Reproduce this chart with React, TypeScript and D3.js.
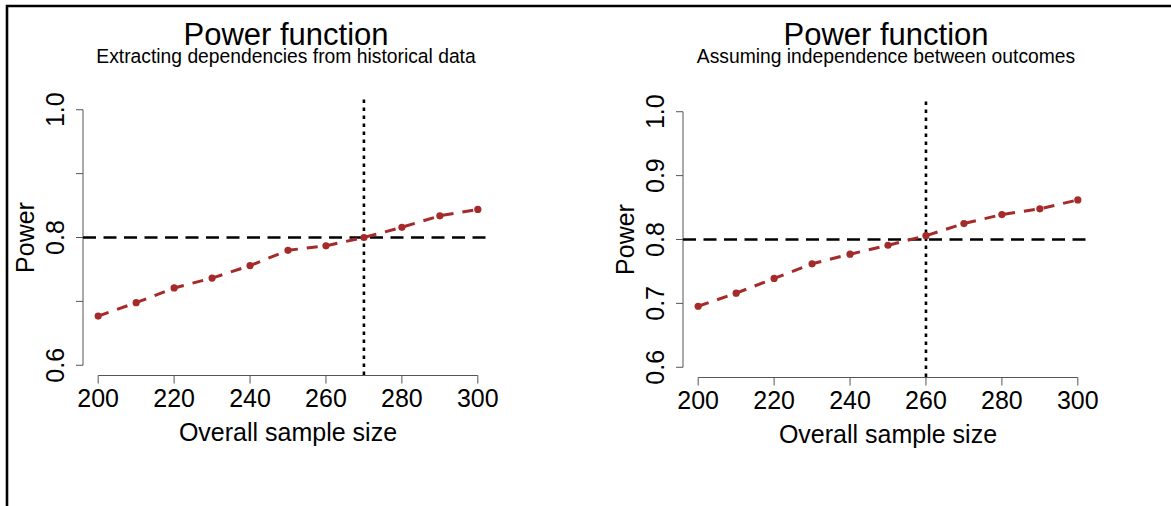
import React from "react";
import * as d3 from "d3";

const sampleSizes = [200, 210, 220, 230, 240, 250, 260, 270, 280, 290, 300];
const powerHistorical = [0.677, 0.698, 0.721, 0.7365, 0.756, 0.78, 0.787, 0.8, 0.816, 0.834, 0.844];
const powerIndependent = [0.6955, 0.716, 0.739, 0.762, 0.777, 0.791, 0.806, 0.825, 0.839, 0.848, 0.862];
const xTicks = [200, 220, 240, 260, 280, 300];
const yTicks = [0.6, 0.7, 0.8, 0.9, 1.0];
const leftYLabels = [0.6, 0.8, 1.0];
const rightYLabels = [0.6, 0.7, 0.8, 0.9, 1.0];
const targetPower = 0.8;
const leftCut = 270;
const rightCut = 260;
const titleText = "Power function";
const leftSubtitle = "Extracting dependencies from historical data";
const rightSubtitle = "Assuming independence between outcomes";
const xLabel = "Overall sample size";
const yLabel = "Power";

const FONT = "'Liberation Sans', Arial, Helvetica, sans-serif";
const RED = "#A52A2A";

type PanelProps = {
  left: number;
  top: number;
  values: number[];
  cut: number;
  subtitle: string;
  yLabels: number[];
};

function Panel({ left, top, values, cut, subtitle, yLabels }: PanelProps) {
  const w = 410;
  const h = 276;
  const x0 = left, x1 = left + w;
  const y0 = top, y1 = top + h;
  const x = d3.scaleLinear().domain([196, 304]).range([x0, x1]);
  const y = d3.scaleLinear().domain([0.584, 1.016]).range([y1, y0]);
  const line = d3
    .line<number>()
    .x((_, i) => x(sampleSizes[i]))
    .y((d) => y(d));
  const cx = (x0 + x1) / 2 - 2;
  return (
    <g fontFamily={FONT}>
      <text x={cx} y={44.5} textAnchor="middle" fontSize={31}>{titleText}</text>
      <text x={cx} y={63} textAnchor="middle" fontSize={19.3}>{subtitle}</text>
      {/* y axis */}
      <line x1={x0} x2={x0} y1={y(yTicks[0])} y2={y(yTicks[yTicks.length - 1])} stroke="#555" strokeWidth={1} />
      {yTicks.map((t) => (
        <line key={"yt" + t} x1={x0 - 7} x2={x0} y1={y(t)} y2={y(t)} stroke="#555" strokeWidth={1} />
      ))}
      {yLabels.map((t) => (
        <text
          key={"yl" + t}
          transform={`translate(${x0 - 19},${y(t)}) rotate(-90)`}
          textAnchor="middle"
          fontSize={25}
        >
          {d3.format(".1f")(t)}
        </text>
      ))}
      <text transform={`translate(${x0 - 49},${(y0 + y1) / 2}) rotate(-90)`} textAnchor="middle" fontSize={25}>
        {yLabel}
      </text>
      {/* x axis */}
      <line x1={x(xTicks[0])} x2={x(xTicks[xTicks.length - 1])} y1={y1} y2={y1} stroke="#555" strokeWidth={1} />
      {xTicks.map((t) => (
        <line key={"xt" + t} x1={x(t)} x2={x(t)} y1={y1} y2={y1 + 8} stroke="#555" strokeWidth={1} />
      ))}
      {xTicks.map((t) => (
        <text key={"xl" + t} x={x(t)} y={y1 + 31} textAnchor="middle" fontSize={25}>
          {t}
        </text>
      ))}
      <text x={(x0 + x1) / 2} y={y1 + 65} textAnchor="middle" fontSize={25}>
        {xLabel}
      </text>
      {/* reference lines */}
      <line x1={x0} x2={x1} y1={y(targetPower)} y2={y(targetPower)} stroke="#000" strokeWidth={2.6} strokeDasharray="13,7.5" />
      <line x1={x(cut)} x2={x(cut)} y1={y0} y2={y1} stroke="#000" strokeWidth={2.6} strokeDasharray="3.5,4.5" />
      {/* data */}
      <path d={line(values) || ""} fill="none" stroke={RED} strokeWidth={3} strokeDasharray="11,9" />
      {values.map((v, i) => (
        <circle key={"p" + i} cx={x(sampleSizes[i])} cy={y(v)} r={3.6} fill={RED} />
      ))}
    </g>
  );
}

export default function App() {
  return (
    <svg
      width={1171}
      height={506}
      viewBox="0 0 1171 506"
      style={{ position: "absolute", left: 0, top: 0, background: "#fff" }}
    >
      <rect x={0} y={0} width={1171} height={506} fill="#fff" />
      <path d="M7,506 V6 H1171" fill="none" stroke="#000" strokeWidth={2.6} />
      <Panel left={83} top={99.5} values={powerHistorical} cut={leftCut} subtitle={leftSubtitle} yLabels={leftYLabels} />
      <Panel left={683} top={101.5} values={powerIndependent} cut={rightCut} subtitle={rightSubtitle} yLabels={rightYLabels} />
    </svg>
  );
}
